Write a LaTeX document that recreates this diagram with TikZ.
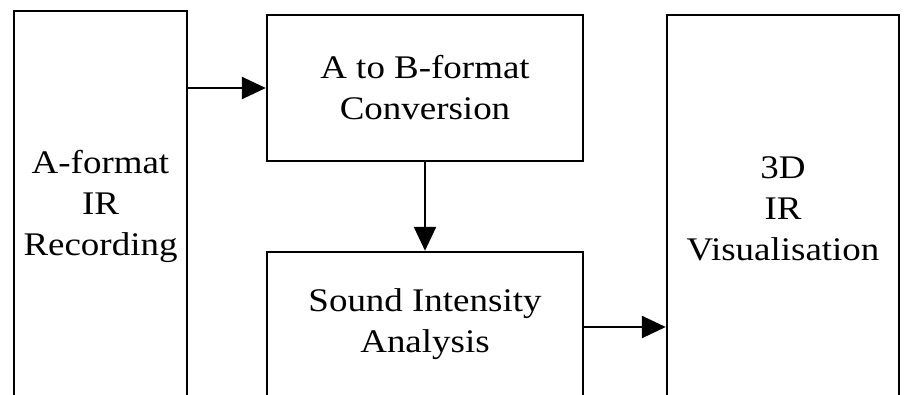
\documentclass[tikz,border=0pt]{standalone}
\usepackage{fontspec}
\setmainfont{Liberation Serif}[FakeStretch=1.12]
\usetikzlibrary{arrows.meta}
\begin{document}
\begin{tikzpicture}[x=1pt,y=-1pt,
  box/.style={draw=black,line width=2.4pt,rectangle,inner sep=0pt},
  lbl/.style={align=center,font=\fontsize{33}{41}\selectfont,inner sep=0pt},
  arr/.style={line width=2.4pt,-{Triangle[length=24pt,width=22pt]}}]
\useasboundingbox (0,0) rectangle (904,394);
\clip (0,0) rectangle (904,394);
\node[box,minimum width=173pt,minimum height=399pt] (b1) at (100.5,210.5) {};
\node[box,minimum width=316pt,minimum height=146pt] (b2) at (425,88) {};
\node[box,minimum width=316pt,minimum height=150pt] (b3) at (425,327) {};
\node[box,minimum width=232pt,minimum height=395pt] (b4) at (783,212.5) {};
\node[lbl] (t1) at (100.5,206) {A-format\\IR\\Recording};
\node[lbl] (t2) at (425,88) {A to B-format\\Conversion};
\node[lbl] (t3) at (425,324) {Sound Intensity\\Analysis};
\node[lbl] (t4) at (783,209) {3D\\IR\\Visualisation};
\draw[arr] (b1.east |- b2.west) -- (b2.west);
\draw[arr] (b2.south) -- (b3.north);
\draw[arr] (b3.east) -- (b3.east -| b4.west);
\end{tikzpicture}
\end{document}
